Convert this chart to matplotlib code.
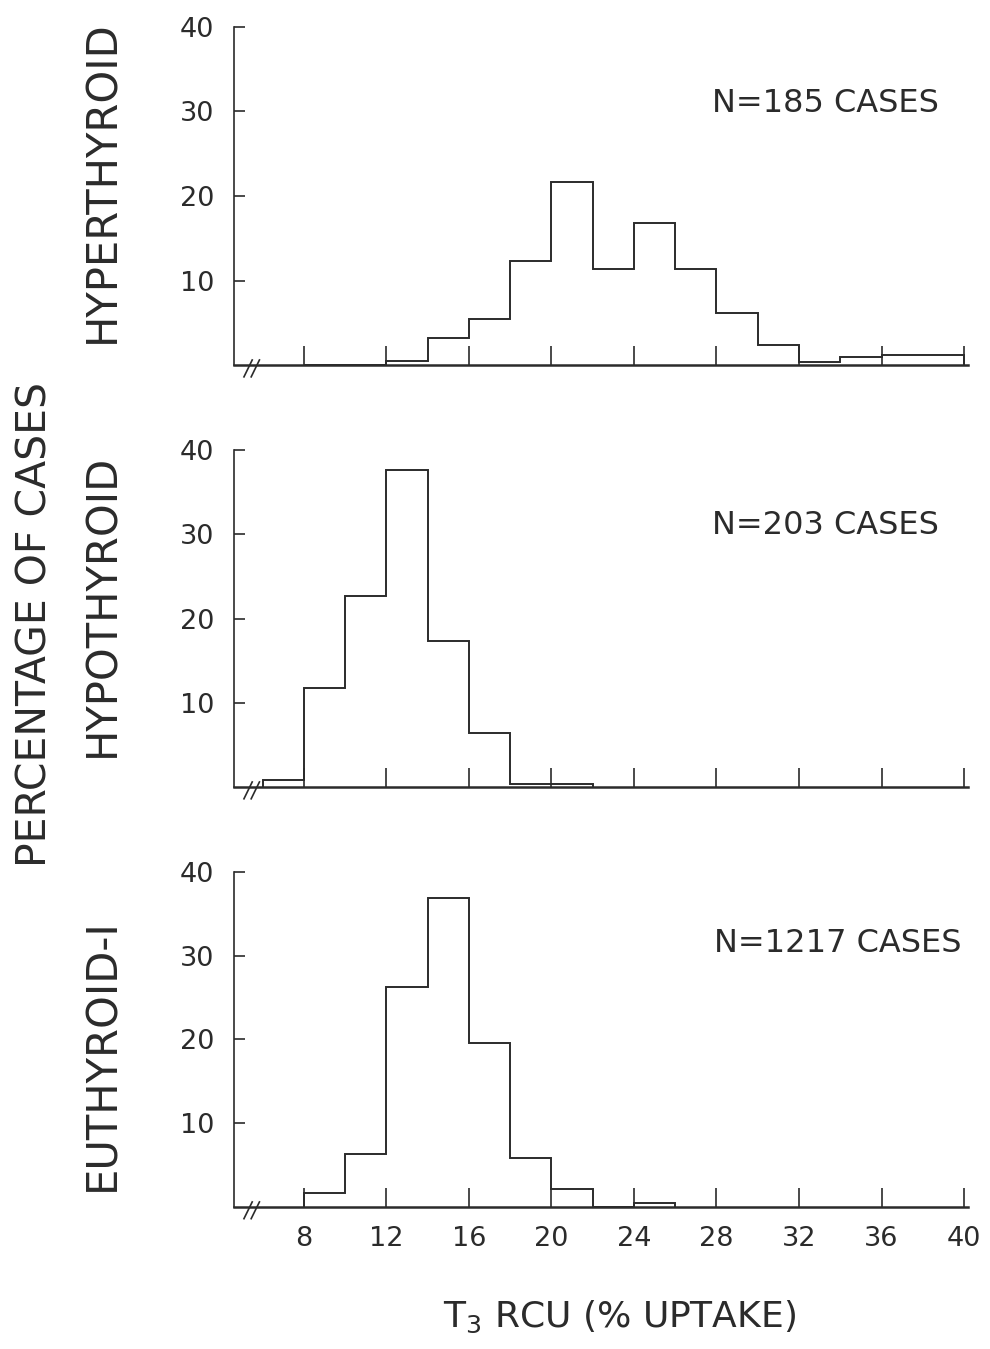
import matplotlib.pyplot as plt

# bin edges (% uptake) and percentage of cases per 2-unit bin
hyper_edges = list(range(8, 42, 2))
hyper_pct = [0, 0, 0.5, 3.2, 5.5, 12.3, 21.7, 11.4, 16.8, 11.4, 6.2, 2.4, 0.4, 0.9, 1.2, 1.2]

hypo_edges = list(range(6, 24, 2))
hypo_pct = [0.8, 11.8, 22.7, 37.6, 17.3, 6.4, 0.4, 0.3]

euthy_edges = list(range(8, 28, 2))
euthy_pct = [1.7, 6.3, 26.3, 36.9, 19.6, 5.9, 2.1, 0, 0.5]

panel_names = ["HYPERTHYROID", "HYPOTHYROID", "EUTHYROID-I"]
panel_counts = ["N=185 CASES", "N=203 CASES", "N=1217 CASES"]

x_ticks = [8, 12, 16, 20, 24, 28, 32, 36, 40]
y_ticks = [10, 20, 30, 40]

INK = "#2b2b2b"

fig = plt.figure(figsize=(9.9, 13.49), dpi=100)

# [left, bottom, width, height] in figure fractions
boxes = [
    [0.236, 0.7294, 0.742, 0.2506],
    [0.236, 0.4166, 0.742, 0.2498],
    [0.236, 0.1053, 0.742, 0.2483],
]
panels = [
    (hyper_edges, hyper_pct),
    (hypo_edges, hypo_pct),
    (euthy_edges, euthy_pct),
]
# label anchors (figure fractions)
name_y = [0.865, 0.5515, 0.218]
count_xy = [(27.8, 30.9), (27.8, 31.1), (27.9, 31.5)]

for i, (box, (edges, pct)) in enumerate(zip(boxes, panels)):
    ax = fig.add_axes(box)
    ax.stairs(pct, edges, baseline=0, fill=False, color=INK, linewidth=1.4)

    ax.set_xlim(4.6, 40.2)
    ax.set_ylim(0, 40)
    for side in ("top", "right"):
        ax.spines[side].set_visible(False)
    ax.spines["left"].set_color(INK)
    ax.spines["bottom"].set_color(INK)
    ax.spines["left"].set_linewidth(1.2)
    ax.spines["bottom"].set_linewidth(1.8)

    ax.set_yticks(y_ticks)
    ax.set_yticklabels([str(v) for v in y_ticks], fontsize=19.5, color=INK)
    ax.tick_params(axis="y", direction="in", length=8, width=1.2, color=INK, pad=14)

    ax.set_xticks(x_ticks)
    ax.tick_params(axis="x", direction="in", length=14, width=1.2, color=INK, pad=14)
    if i == 2:
        ax.set_xticklabels([str(v) for v in x_ticks], fontsize=19.5, color=INK)
    else:
        ax.set_xticklabels([])

    # axis break marks near the origin
    for dx in (0.0, 0.35):
        ax.plot([5.1 + dx, 5.5 + dx], [-1.4, 0.6], color=INK, linewidth=1.2, clip_on=False)

    cx, cy = count_xy[i]
    ax.text(cx, cy, panel_counts[i], fontsize=23, color=INK, ha="left", va="center")

    fig.text(0.103, name_y[i], panel_names[i], rotation=90,
             fontsize=30, color=INK, ha="center", va="center")

fig.text(0.036, 0.5367, "PERCENTAGE OF CASES", rotation=90, fontsize=29.5, color=INK,
         ha="center", va="center")
fig.text(0.626, 0.024, "T$_3$ RCU (% UPTAKE)", fontsize=26, color=INK,
         ha="center", va="center")

fig.savefig("out.png", dpi=100)
